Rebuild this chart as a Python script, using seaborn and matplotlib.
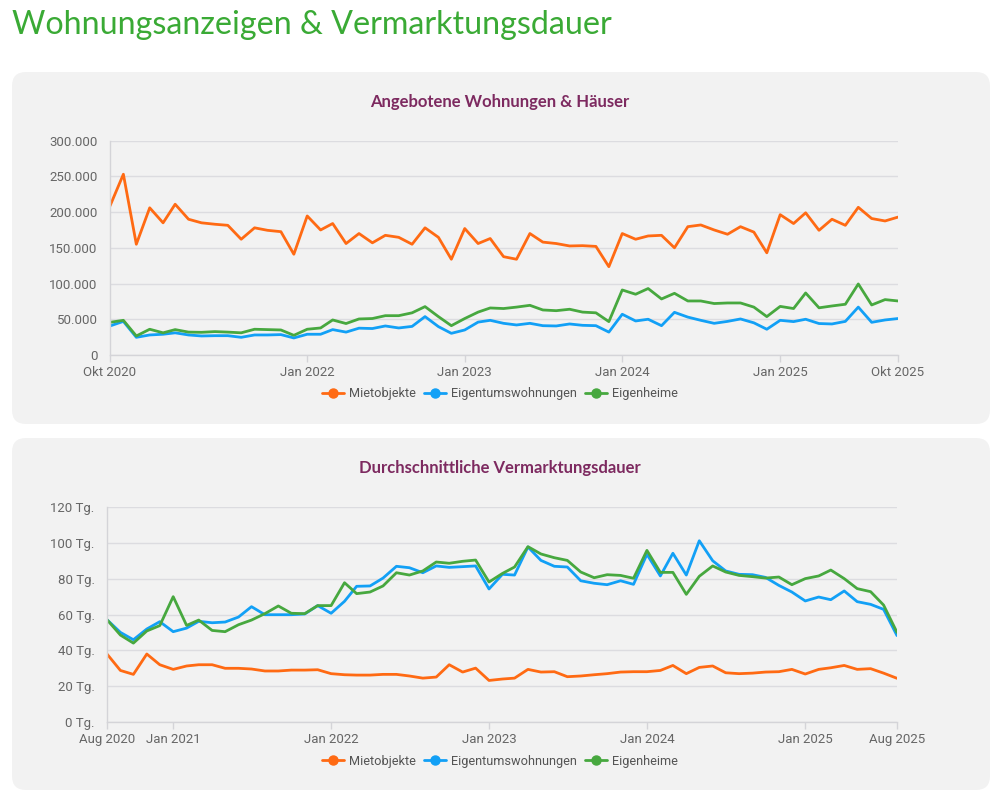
import pandas as pd
import matplotlib.pyplot as plt
import seaborn as sns
from matplotlib.patches import FancyBboxPatch
from matplotlib.lines import Line2D
from matplotlib.ticker import FuncFormatter

sns.set_theme(style="whitegrid")
plt.rcParams['font.family'] = ['Roboto', 'DejaVu Sans']

# --- Angebotene Wohnungen & Häuser (monatlich, Okt 2020 - Okt 2025) ---
months_top = pd.date_range('2020-10-01', periods=61, freq='MS')
miet_top = [208.6, 253, 155, 206, 185, 211, 190, 185, 183, 181.5, 162, 178, 174.5, 172.6, 141,
            194.6, 175, 184, 156, 170, 157, 167.5, 164.7, 155, 178, 164.7, 134, 177, 156, 163,
            137.6, 134, 170, 158, 156, 152.6, 153, 152, 123.6, 170, 162, 166.6, 167.5, 150,
            179.6, 182, 175, 169, 179.6, 172, 143, 196.4, 184, 199, 174.5, 190, 181.5, 206.7,
            191, 187.6, 193]
etw_top = [40.6, 47, 24.7, 28, 29, 31, 28, 26.6, 27, 27, 24.7, 28, 28, 28.5, 23.8, 29, 29,
           35.5, 32, 37.5, 37, 40.6, 37.8, 40, 53.7, 39.7, 30.3, 35, 46, 48.5, 44.3, 42, 44.3,
           41, 40.6, 43.4, 41.5, 41, 32, 57, 47.6, 50, 41, 59.7, 53, 48.5, 44.3, 47, 50.4, 45,
           36, 48.5, 46.7, 50, 44, 43.4, 47, 67, 45.7, 49, 51]
heime_top = [45.7, 48.5, 26.6, 36, 31, 35.5, 32, 31.7, 32.7, 32, 31, 36, 35.5, 35, 27.5, 36,
             37.8, 49, 44, 50.4, 51, 55, 55, 59, 67.7, 53.7, 41, 51, 60, 65.8, 65, 67, 69.5, 63,
             62, 64, 60, 59, 46.7, 91, 85, 93, 78.4, 86.3, 75.6, 75.6, 72, 72.8, 72.8, 67, 53.7,
             68, 65, 86.8, 66, 68.6, 71, 99.4, 70, 77.5, 75.6]

# --- Durchschnittliche Vermarktungsdauer in Tagen (Aug 2020 - Aug 2025) ---
months_bot = pd.date_range('2020-08-01', periods=61, freq='MS')
miet_bot = [37.9, 28.7, 26.5, 37.9, 31.9, 29.3, 31.2, 31.9, 31.9, 29.9, 29.9, 29.5, 28.4, 28.4,
            28.9, 28.9, 29.1, 26.9, 26.3, 26.1, 26.1, 26.5, 26.5, 25.6, 24.4, 25, 31.9, 27.8, 30,
            23.1, 23.9, 24.4, 29.3, 27.8, 28, 25.2, 25.6, 26.3, 26.9, 27.8, 28, 28, 28.7, 31.5,
            26.9, 30.4, 31.2, 27.4, 26.9, 27.2, 27.8, 28, 29.3, 26.7, 29.3, 30.2, 31.5, 29.3,
            29.7, 27.2, 24.3]
etw_bot = [57.1, 50, 45.9, 51.9, 56, 50.4, 52.4, 56.2, 55.4, 55.8, 58.6, 64.4, 59.9, 59.9, 59.9,
           60.3, 65, 60.7, 67.4, 75.8, 76, 80.4, 87, 86.2, 83.4, 87.2, 86.4, 86.8, 87.2, 74.3,
           82.5, 82.1, 97.8, 90.3, 87, 86.6, 78.9, 77.5, 76.7, 78.9, 76.9, 93.7, 81.6, 94.3,
           82.1, 101.3, 90.1, 84.4, 82.5, 82.3, 80.8, 76.3, 72.6, 67.6, 69.8, 68.3, 73.2, 67.2,
           65.7, 62.9, 48.2]
heime_bot = [57.1, 48.5, 44, 50.8, 53.8, 70, 53.9, 56.9, 51.1, 50.4, 54.3, 56.9, 60.5, 64.8,
             60.7, 60.5, 65, 65, 77.8, 71.7, 72.6, 76, 83.4, 82.1, 84.4, 89.4, 88.7, 89.8, 90.5,
             78.2, 83, 86.6, 98, 93.9, 91.8, 90.3, 83.8, 80.6, 82.3, 81.9, 80.3, 95.9, 83.6, 83.6,
             71.3, 81.4, 87.2, 83.8, 81.9, 81.2, 80.4, 81, 76.7, 80.1, 81.6, 84.9, 80.1, 74.5,
             72.8, 65.3, 50]

series_names = ['Mietobjekte', 'Eigentumswohnungen', 'Eigenheime']
colors = ['#ff6a13', '#12a0f6', '#47a83f']
palette = dict(zip(series_names, colors))

top_ticks = ['2020-10-01', '2022-01-01', '2023-01-01', '2024-01-01', '2025-01-01', '2025-10-01']
top_ticklabels = ['Okt 2020', 'Jan 2022', 'Jan 2023', 'Jan 2024', 'Jan 2025', 'Okt 2025']
bot_ticks = ['2020-08-01', '2021-01-01', '2022-01-01', '2023-01-01', '2024-01-01', '2025-01-01', '2025-08-01']
bot_ticklabels = ['Aug 2020', 'Jan 2021', 'Jan 2022', 'Jan 2023', 'Jan 2024', 'Jan 2025', 'Aug 2025']


def long_df(months, a, b, c):
    parts = []
    for name, vals in zip(series_names, [a, b, c]):
        parts.append(pd.DataFrame({'Monat': months, 'Wert': vals, 'Serie': name}))
    return pd.concat(parts, ignore_index=True)


fig = plt.figure(figsize=(10, 8.02), dpi=100)
fig.patch.set_facecolor('white')

# rounded grey panels
for y0, h in [(3.78, 3.52), (0.12, 3.52)]:
    fig.add_artist(FancyBboxPatch((0.12, y0), 9.78, h, boxstyle='round,pad=0,rounding_size=0.14',
                                  transform=fig.dpi_scale_trans, facecolor='#f2f2f2',
                                  edgecolor='none', zorder=-5))

fig.text(0.012, 0.969, 'Wohnungsanzeigen & Vermarktungsdauer', fontsize=23.2, color='#3aaa35',
         family=['Lato', 'DejaVu Sans'], va='center', ha='left')

ax1 = fig.add_axes([0.110, 0.5574, 0.788, 0.2672])
ax2 = fig.add_axes([0.107, 0.1001, 0.790, 0.2673])

df_top = long_df(months_top, [v * 1000 for v in miet_top], [v * 1000 for v in etw_top],
                 [v * 1000 for v in heime_top])
df_bot = long_df(months_bot, miet_bot, etw_bot, heime_bot)

sns.lineplot(data=df_top, x='Monat', y='Wert', hue='Serie', palette=palette, linewidth=2,
             ax=ax1, legend=False)
sns.lineplot(data=df_bot, x='Monat', y='Wert', hue='Serie', palette=palette, linewidth=2,
             ax=ax2, legend=False)

ax1.set_ylim(0, 300000)
ax1.set_yticks(range(0, 300001, 50000))
ax1.yaxis.set_major_formatter(FuncFormatter(lambda v, p: f'{int(v):,}'.replace(',', '.')))
ax1.set_xlim(months_top[0], months_top[-1])
ax1.set_xticks(pd.to_datetime(top_ticks))
ax1.set_xticklabels(top_ticklabels)

ax2.set_ylim(0, 120)
ax2.set_yticks(range(0, 121, 20))
ax2.yaxis.set_major_formatter(FuncFormatter(lambda v, p: f'{int(v)} Tg.'))
ax2.set_xlim(months_bot[0], months_bot[-1])
ax2.set_xticks(pd.to_datetime(bot_ticks))
ax2.set_xticklabels(bot_ticklabels)

titles = ['Angebotene Wohnungen & Häuser', 'Durchschnittliche Vermarktungsdauer']
title_y = [1 - 102 / 802, 1 - 468 / 802]
legend_y = [1 - 394 / 802, 1 - 761 / 802]

for ax, t, ty, ly in zip([ax1, ax2], titles, title_y, legend_y):
    ax.set_facecolor('none')
    ax.set_xlabel('')
    ax.set_ylabel('')
    ax.grid(axis='x', visible=False)
    ax.grid(axis='y', color='#dcdce0', linewidth=1)
    for s in ['top', 'right']:
        ax.spines[s].set_visible(False)
    for s in ['left', 'bottom']:
        ax.spines[s].set_color('#d4d4d8')
        ax.spines[s].set_linewidth(1)
    ax.tick_params(axis='y', length=0, pad=9, labelsize=9.5, labelcolor='#666666')
    ax.tick_params(axis='x', length=5, width=1, color='#d4d4d8', pad=3, labelsize=9.5,
                   labelcolor='#666666', bottom=True)
    fig.text(0.5, ty, t, fontsize=12, fontweight='bold', color='#7d2a60',
             family=['Lato', 'DejaVu Sans'], ha='center', va='center')
    handles = [Line2D([0], [0], color=c, lw=2, marker='o', markersize=6.5) for c in colors]
    ax.legend(handles, series_names, loc='center', bbox_to_anchor=(0.5, ly),
              bbox_transform=fig.transFigure, ncol=3, frameon=False, fontsize=9.2,
              handlelength=1.7, handletextpad=0.45, columnspacing=0.6, labelcolor='#555555')

fig.savefig('out.png', dpi=100, facecolor='white')
